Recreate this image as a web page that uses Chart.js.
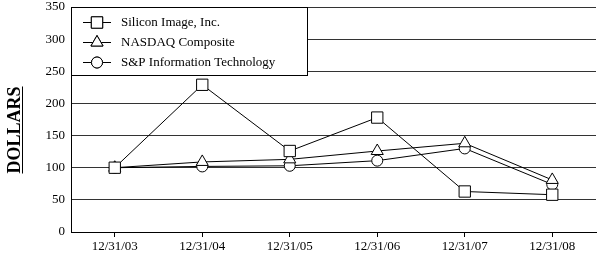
<!DOCTYPE html>
<html>
<head>
<meta charset="utf-8">
<script src="https://cdn.jsdelivr.net/npm/chart.js@4"></script>
<style>
  html, body { margin: 0; padding: 0; background: #fff; overflow: hidden; }
  canvas { display: block; }
</style>
</head>
<body>
<canvas id="perfChart" width="597" height="255"></canvas>
<script>
const dates = ["12/31/03", "12/31/04", "12/31/05", "12/31/06", "12/31/07", "12/31/08"];
const siliconImage = [100, 229, 126, 178, 63, 58];
const nasdaq = [100, 109, 113, 126, 138, 81];
const spInfoTech = [100, 102, 103, 111, 130, 74];
const yTicks = [0, 50, 100, 150, 200, 250, 300, 350];

const serif = "'Liberation Serif', 'Times New Roman', serif";

// white legend box in the upper left of the plot + rotated axis title
const extras = {
    id: "extras",
    afterDraw(chart) {
        const ctx = chart.ctx;
        const area = chart.chartArea;
        ctx.save();

        // legend box
        const bx = area.left, by = area.top, bw = 236, bh = 68;
        ctx.fillStyle = "#fff";
        ctx.fillRect(bx, by, bw, bh);
        ctx.strokeStyle = "#000";
        ctx.lineWidth = 1;
        ctx.strokeRect(bx + 0.5, by + 0.5, bw, bh);

        chart.data.datasets.forEach((ds, i) => {
            const y = by + 15 + i * 20;
            ctx.beginPath();
            ctx.moveTo(bx + 12, y + 0.5);
            ctx.lineTo(bx + 40, y + 0.5);
            ctx.strokeStyle = "#000";
            ctx.stroke();
            Chart.helpers.drawPoint(ctx, {
                pointStyle: ds.pointStyle,
                radius: ds.pointRadius,
                borderWidth: 1
            }, bx + 26, y + 0.5);
            ctx.fillStyle = "#fff";
            ctx.fill();
            ctx.stroke();
            ctx.fillStyle = "#000";
            ctx.font = "13px " + serif;
            ctx.textBaseline = "middle";
            ctx.textAlign = "left";
            ctx.fillText(ds.label, bx + 50, y + 1);
        });

        // axis title
        ctx.translate(15, 130);
        ctx.rotate(-Math.PI / 2);
        ctx.font = "bold 18px " + serif;
        ctx.fillStyle = "#000";
        ctx.textAlign = "center";
        ctx.textBaseline = "middle";
        ctx.fillText("DOLLARS", 0, 0);
        const w = ctx.measureText("DOLLARS").width;
        ctx.fillRect(-w / 2, 7, w, 1);
        ctx.restore();
    }
};

function series(label, data, style, radius) {
    return {
        label: label,
        data: data,
        borderColor: "#000",
        borderWidth: 1,
        pointStyle: style,
        pointRadius: radius,
        pointHoverRadius: radius,
        pointBackgroundColor: "#fff",
        pointBorderColor: "#000",
        pointBorderWidth: 1,
        tension: 0
    };
}

new Chart(document.getElementById("perfChart"), {
    type: "line",
    data: {
        labels: dates,
        datasets: [
            series("Silicon Image, Inc.", siliconImage, "rect", 8),
            series("NASDAQ Composite", nasdaq, "triangle", 7),
            series("S&P Information Technology", spInfoTech, "circle", 5.5)
        ]
    },
    options: {
        responsive: false,
        animation: false,
        events: [],
        layout: { autoPadding: false, padding: { top: 0, right: 1, left: 0, bottom: 0 } },
        plugins: { legend: { display: false }, tooltip: { enabled: false } },
        scales: {
            x: {
                offset: true,
                afterFit(scale) {
                    scale.height = 23;
                    scale.paddingLeft = 0;
                    scale.paddingRight = 0;
                },
                grid: { display: true, drawOnChartArea: false, drawTicks: true, tickLength: 5, color: "#000", offset: false },
                border: { color: "#000", width: 1 },
                ticks: { color: "#000", font: { family: serif, size: 13 }, padding: 2, maxRotation: 0 }
            },
            y: {
                min: 0,
                max: 350,
                afterFit(scale) {
                    scale.width = 71;
                    scale.paddingTop = 7;
                    scale.paddingBottom = 0;
                },
                afterBuildTicks(scale) { scale.ticks = yTicks.map(v => ({ value: v })); },
                grid: { color: "#333", lineWidth: 1, drawTicks: false },
                border: { color: "#000", width: 1 },
                ticks: { color: "#000", font: { family: serif, size: 13 }, padding: 6 }
            }
        }
    },
    plugins: [extras]
});
</script>
</body>
</html>
